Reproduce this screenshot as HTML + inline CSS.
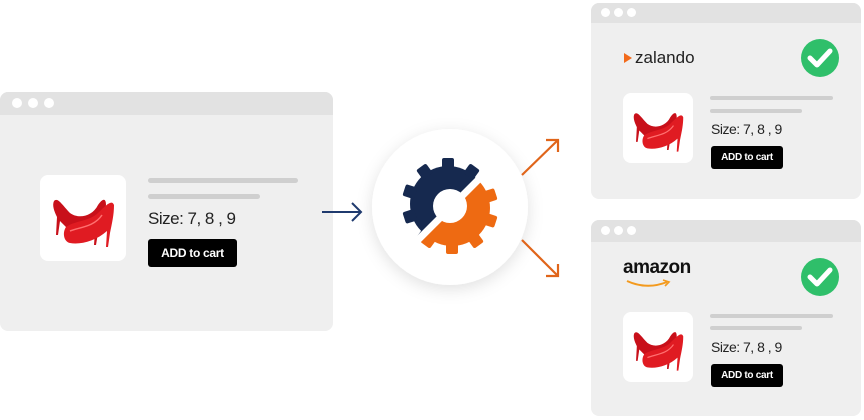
<!DOCTYPE html>
<html><head><style>
body{margin:0;width:864px;height:420px;background:#fff;position:relative;overflow:hidden;font-family:"Liberation Sans",sans-serif}
.win{position:absolute;background:#efefef;border-radius:8px;overflow:hidden}
.bar{height:22px;background:#e2e2e2;position:relative}
.dot{position:absolute;top:6px;width:10px;height:10px;border-radius:50%;background:#fff}
.img{position:absolute;background:#fff;border-radius:8px}
.ln{position:absolute;height:5px;background:#cfcfcf;border-radius:3px}
.btn{position:absolute;background:#000;color:#fff;font-weight:bold;text-align:center;border-radius:3px;letter-spacing:-0.3px}
.sz{position:absolute;color:#222;letter-spacing:-0.5px}
</style></head><body>
<svg width="0" height="0" style="position:absolute"><defs>
<symbol id="shoe" viewBox="0 0 86 86">
<path d="M14 26 C18 22 22 30 30 38 C38 44 52 42 58 30 C62 24 66 22 66 30 C64 40 60 50 58 58 L56 70 L54 70 L55 56 C46 60 36 62 30 56 C26 52 22 48 20 46 L18 60 L16 60 L17 42 C14 36 12 30 14 26Z" fill="#c8101a"/>
<path d="M26 52 C34 46 50 46 58 38 C66 30 72 24 74 30 C74 40 72 48 70 58 L68 72 L66 72 L67 56 C56 66 40 70 30 68 C24 67 22 58 26 52Z" fill="#e01b22"/>
<path d="M30 56 C40 52 54 52 62 40" stroke="#ff7070" stroke-width="1.5" fill="none"/>
</symbol>
<symbol id="chk" viewBox="0 0 40 40"><circle cx="20" cy="20" r="19" fill="#2fbf6a"/><path d="M10 20 L17 27 L30 13" stroke="#fff" stroke-width="5" fill="none" stroke-linecap="round" stroke-linejoin="round"/></symbol>
</defs></svg>

<div class="win" style="left:0;top:92px;width:333px;height:239px">
<div class="bar" style="height:23px"><div class="dot" style="left:12px"></div><div class="dot" style="left:28px"></div><div class="dot" style="left:44px"></div></div>
<div class="img" style="left:40px;top:83px;width:86px;height:86px"><svg width="86" height="86"><use href="#shoe"/></svg></div>
<div class="ln" style="left:148px;top:86px;width:150px"></div>
<div class="ln" style="left:148px;top:102px;width:112px"></div>
<div class="sz" style="left:148px;top:117px;font-size:17px">Size: 7, 8 , 9</div>
<div class="btn" style="left:148px;top:147px;width:89px;height:28px;line-height:28px;font-size:12px">ADD to cart</div>
</div>

<div class="win" style="left:591px;top:3px;width:270px;height:196px">
<div class="bar" style="height:20px"><div class="dot" style="left:10px;top:5px;width:9px;height:9px"></div><div class="dot" style="left:23px;top:5px;width:9px;height:9px"></div><div class="dot" style="left:36px;top:5px;width:9px;height:9px"></div></div>
<div style="position:absolute;left:33px;top:45px;font-size:17px;color:#222"><span style="display:inline-block;width:0;height:0;border-left:8px solid #f26a1b;border-top:5px solid transparent;border-bottom:5px solid transparent;margin-right:3px"></span>zalando</div>
<svg style="position:absolute;left:209px;top:35px" width="40" height="40"><use href="#chk"/></svg>
<div class="img" style="left:32px;top:90px;width:70px;height:70px"><svg width="70" height="70"><use href="#shoe"/></svg></div>
<div class="ln" style="left:119px;top:93px;width:123px;height:4px"></div>
<div class="ln" style="left:119px;top:106px;width:92px;height:4px"></div>
<div class="sz" style="left:120px;top:118px;font-size:14px">Size: 7, 8 , 9</div>
<div class="btn" style="left:120px;top:143px;width:72px;height:23px;line-height:23px;font-size:10px">ADD to cart</div>
</div>

<div class="win" style="left:591px;top:220px;width:270px;height:196px">
<div class="bar" style="height:22px"><div class="dot" style="left:10px;top:6px;width:9px;height:9px"></div><div class="dot" style="left:23px;top:6px;width:9px;height:9px"></div><div class="dot" style="left:36px;top:6px;width:9px;height:9px"></div></div>
<div style="position:absolute;left:32px;top:37px;font-size:19px;font-weight:bold;color:#111;letter-spacing:-0.5px">amazon</div>
<svg style="position:absolute;left:34px;top:58px" width="50" height="12"><path d="M2 3 Q22 12 42 4" stroke="#f39a1e" stroke-width="2" fill="none"/><path d="M38 2 L44 4 L40 8" stroke="#f39a1e" stroke-width="1.6" fill="none"/></svg>
<svg style="position:absolute;left:209px;top:37px" width="40" height="40"><use href="#chk"/></svg>
<div class="img" style="left:32px;top:92px;width:70px;height:70px"><svg width="70" height="70"><use href="#shoe"/></svg></div>
<div class="ln" style="left:119px;top:94px;width:123px;height:4px"></div>
<div class="ln" style="left:119px;top:106px;width:92px;height:4px"></div>
<div class="sz" style="left:120px;top:119px;font-size:14px">Size: 7, 8 , 9</div>
<div class="btn" style="left:120px;top:144px;width:72px;height:23px;line-height:23px;font-size:10px">ADD to cart</div>
</div>

<svg style="position:absolute;left:0;top:0" width="864" height="420">
<defs>
<filter id="sh" x="-30%" y="-30%" width="160%" height="160%"><feDropShadow dx="0" dy="4" stdDeviation="8" flood-color="#000" flood-opacity="0.12"/></filter>
<mask id="hole"><rect x="380" y="130" width="140" height="150" fill="#fff"/><circle cx="450" cy="206" r="17" fill="#000"/><path d="M400 258 L502 156" stroke="#000" stroke-width="7"/></mask>
<clipPath id="ul"><path d="M380 130 L502 130 L502 156 L400 258 L380 258Z"/></clipPath>
<clipPath id="lr"><path d="M502 156 L530 156 L530 290 L390 290 L390 268 L400 258Z"/></clipPath>
<g id="gear"><circle cx="450" cy="206" r="38"/>
<g>
<rect x="444" y="160" width="12" height="12" rx="2"/><rect x="444" y="160" width="12" height="12" rx="2" transform="rotate(36 450 206)"/><rect x="444" y="160" width="12" height="12" rx="2" transform="rotate(72 450 206)"/><rect x="444" y="160" width="12" height="12" rx="2" transform="rotate(108 450 206)"/><rect x="444" y="160" width="12" height="12" rx="2" transform="rotate(144 450 206)"/><rect x="444" y="160" width="12" height="12" rx="2" transform="rotate(180 450 206)"/><rect x="444" y="160" width="12" height="12" rx="2" transform="rotate(216 450 206)"/><rect x="444" y="160" width="12" height="12" rx="2" transform="rotate(252 450 206)"/><rect x="444" y="160" width="12" height="12" rx="2" transform="rotate(288 450 206)"/><rect x="444" y="160" width="12" height="12" rx="2" transform="rotate(324 450 206)"/>
</g></g>
</defs>
<circle cx="450" cy="207" r="78" fill="#fff" filter="url(#sh)"/>
<g mask="url(#hole)">
<g clip-path="url(#ul)" fill="#16294f"><use href="#gear" transform="translate(-2,-2)"/></g>
<g clip-path="url(#lr)" fill="#ee6a12"><use href="#gear" transform="translate(2,2)"/></g>
</g>
<g stroke="#1f3a6e" stroke-width="2" fill="none"><path d="M322 212 L361 212"/><path d="M352 203 L361 212 L352 221"/></g>
<g stroke="#e0651a" stroke-width="2.2" fill="none"><path d="M522 175 L558 140"/><path d="M546 140 L558 140 L558 152"/><path d="M522 240 L558 276"/><path d="M546 276 L558 276 L558 264"/></g>
</svg>
</body></html>
